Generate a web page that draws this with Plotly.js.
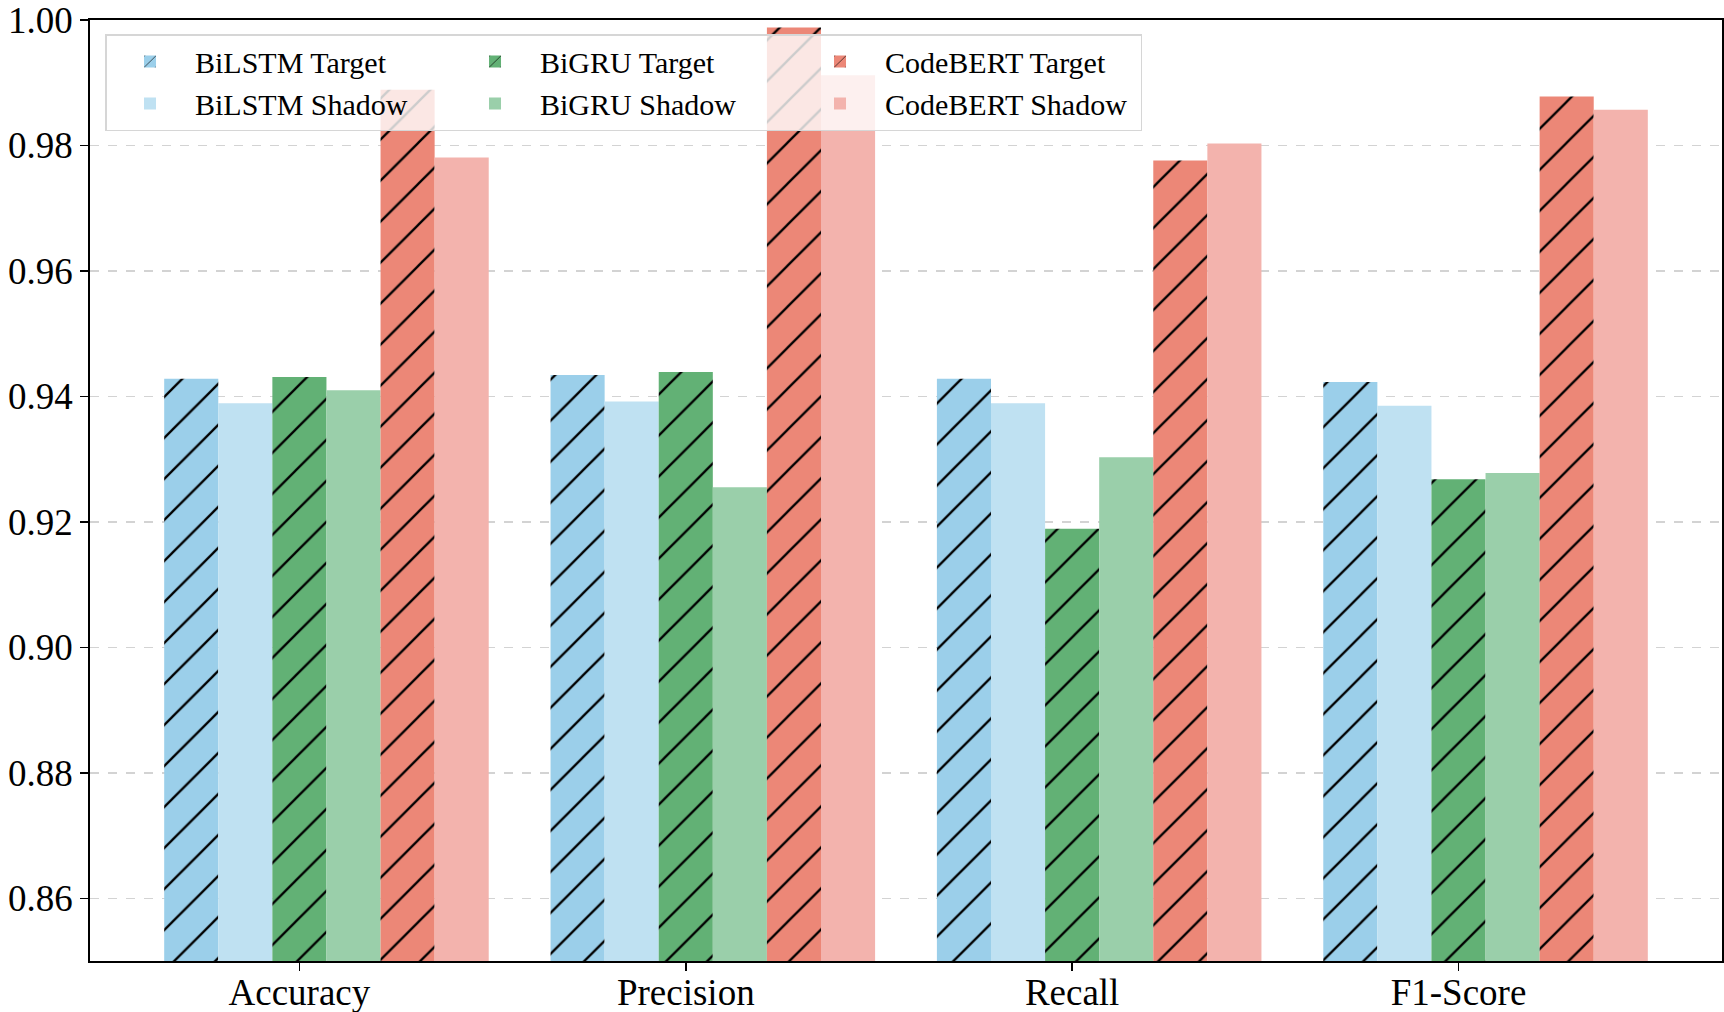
<!DOCTYPE html>
<html><head><meta charset="utf-8">
<script src="https://cdn.plot.ly/plotly-3.0.1.min.js"></script>
<style>html,body{margin:0;padding:0;background:#fff}</style>
</head><body><div id="chart" style="width:1724px;height:1012px"></div>
<script>
const categories = ['Accuracy', 'Precision', 'Recall', 'F1-Score'];
const bilstmTarget   = [0.9428, 0.9434, 0.9428, 0.9423];
const bilstmShadow   = [0.9389, 0.9392, 0.9389, 0.9385];
const bigruTarget    = [0.9431, 0.9439, 0.9189, 0.9268];
const bigruShadow    = [0.9410, 0.9255, 0.9303, 0.9278];
const codebertTarget = [0.9889, 0.9988, 0.9776, 0.9878];
const codebertShadow = [0.9781, 0.9912, 0.9803, 0.9857];
const yTickValues = [0.86, 0.88, 0.90, 0.92, 0.94, 0.96, 0.98, 1.00];

const series = [
  {name: 'BiLSTM Target',   y: bilstmTarget,   color: '#9BCFEA', hatch: true,  group: 'bilstm'},
  {name: 'BiLSTM Shadow',   y: bilstmShadow,   color: '#BFE1F2', hatch: false, group: 'bilstm'},
  {name: 'BiGRU Target',    y: bigruTarget,    color: '#62B175', hatch: true,  group: 'bigru'},
  {name: 'BiGRU Shadow',    y: bigruShadow,    color: '#9ACFAA', hatch: false, group: 'bigru'},
  {name: 'CodeBERT Target', y: codebertTarget, color: '#EC8777', hatch: true,  group: 'codebert'},
  {name: 'CodeBERT Shadow', y: codebertShadow, color: '#F3B3AD', hatch: false, group: 'codebert'}
];
const barW = 0.14;
const idx = categories.map((c, i) => i);

const traces = series.map((s, j) => ({
  type: 'bar',
  name: s.name,
  legendgroup: s.group,
  x: idx.map(i => i + (j - 2) * barW),
  y: s.y,
  width: barW,
  marker: {
    color: s.color,
    line: {width: 0},
    pattern: s.hatch ? {shape: '/', fgcolor: '#000000', fgopacity: 1, bgcolor: s.color, size: 29, solidity: 0.08, fillmode: 'overlay'} : {shape: ''}
  },
  hoverinfo: 'x+y'
}));

const font = 'Liberation Serif, Times New Roman, serif';
const layout = {
  width: 1724, height: 1012,
  margin: {l: 90, r: 2, t: 20, b: 51},
  paper_bgcolor: '#ffffff', plot_bgcolor: '#ffffff',
  barmode: 'overlay',
  showlegend: true,
  font: {family: font, color: '#000000'},
  xaxis: {
    range: [-0.542, 3.682],
    tickvals: idx, ticktext: categories,
    ticks: 'outside', ticklen: 8, tickwidth: 1.5, tickcolor: '#000',
    ticklabelstandoff: -10,
    ticklabeloverflow: 'allow',
    showline: true, linecolor: '#000', linewidth: 1.8, mirror: true,
    showgrid: false, zeroline: false,
    tickfont: {family: font, size: 37, color: '#000'}
  },
  yaxis: {
    range: [0.85, 1.0],
    tickvals: yTickValues, tickformat: '.2f',
    ticks: 'outside', ticklen: 8, tickwidth: 1.5, tickcolor: '#000',
    ticklabeloverflow: 'allow',
    showline: true, linecolor: '#000', linewidth: 1.8, mirror: true,
    showgrid: true, gridcolor: '#d3d3d3', gridwidth: 1.5, griddash: 'dash',
    zeroline: false,
    tickfont: {family: font, size: 37, color: '#000'}
  },
  legend: {
    x: 0.0092, y: 0.985, xanchor: 'left', yanchor: 'top',
    orientation: 'h', traceorder: 'grouped',
    itemwidth: 80, entrywidth: 250, entrywidthmode: 'pixels',
    bgcolor: 'rgba(255,255,255,0.8)', bordercolor: '#d6d6d6', borderwidth: 1.5,
    font: {family: font, size: 30, color: '#000'}
  }
};
Plotly.newPlot('chart', traces, layout, {displayModeBar: false, staticPlot: true});
</script></body></html>
